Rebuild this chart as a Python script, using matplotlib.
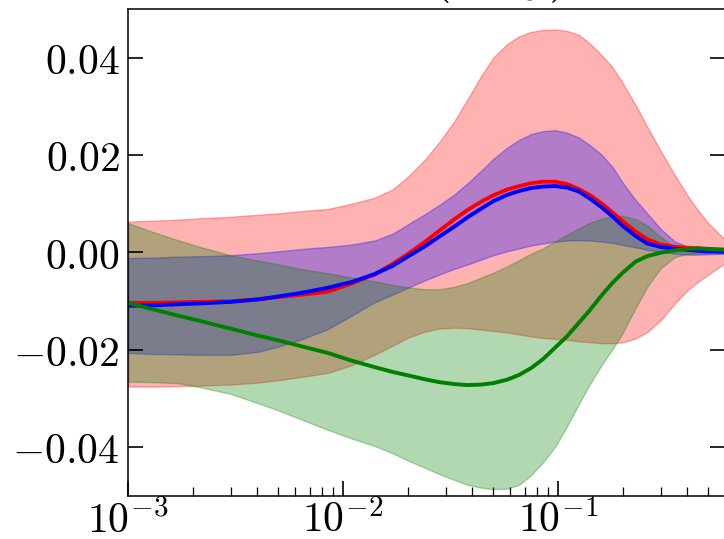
import matplotlib
matplotlib.use("Agg")
import matplotlib.pyplot as plt
from matplotlib.ticker import FixedLocator, FixedFormatter, LogLocator, NullFormatter

plt.rcParams["mathtext.fontset"] = "cm"
plt.rcParams["font.family"] = "serif"

# x grid
x = [0.001, 0.0013, 0.0017, 0.0022, 0.003, 0.004, 0.005, 0.0065, 0.0085, 0.011,
     0.014, 0.017, 0.02, 0.024, 0.028, 0.033, 0.038, 0.044, 0.05, 0.058,
     0.066, 0.075, 0.085, 0.097, 0.11, 0.125, 0.14, 0.16, 0.18, 0.2,
     0.23, 0.26, 0.3, 0.35, 0.4, 0.45, 0.5, 0.6]

# central curves
red_mid = [-0.0104, -0.0104, -0.0103, -0.0102, -0.0101, -0.0097, -0.0092, -0.0087, -0.0081, -0.0064,
           -0.0046, -0.0024, -0.0004, 0.0021, 0.0044, 0.0068, 0.0087, 0.0104, 0.0117, 0.0129,
           0.0136, 0.0142, 0.0145, 0.0145, 0.0140, 0.0130, 0.0118, 0.0100, 0.0081, 0.0064,
           0.0042, 0.0027, 0.0016, 0.0011, 0.0009, 0.0008, 0.0006, 0.0005]
blue_mid = [-0.0110, -0.0109, -0.0107, -0.0105, -0.0102, -0.0097, -0.0091, -0.0083, -0.0073, -0.0061,
            -0.0045, -0.0028, -0.0009, 0.0012, 0.0032, 0.0053, 0.0072, 0.0090, 0.0105, 0.0118,
            0.0126, 0.0132, 0.0135, 0.0136, 0.0133, 0.0125, 0.0111, 0.0092, 0.0073, 0.0054,
            0.0033, 0.0018, 0.0011, 0.0007, 0.0005, 0.0003, 0.0002, 0.0001]
green_mid = [-0.0104, -0.0117, -0.0130, -0.0142, -0.0157, -0.0171, -0.0181, -0.0194, -0.0207, -0.0223,
             -0.0236, -0.0246, -0.0253, -0.0261, -0.0267, -0.0271, -0.0273, -0.0272, -0.0269, -0.0262,
             -0.0252, -0.0238, -0.0220, -0.0196, -0.0173, -0.0145, -0.0120, -0.0088, -0.0062, -0.0042,
             -0.0019, -0.0008, -0.0001, 0.0004, 0.0007, 0.0008, 0.0007, 0.0005]

# uncertainty bands
red_hi = [0.0063, 0.0065, 0.0067, 0.0070, 0.0073, 0.0077, 0.0080, 0.0085, 0.0089, 0.0100,
          0.0112, 0.0129, 0.0155, 0.0190, 0.0226, 0.0270, 0.0315, 0.0363, 0.0400, 0.0428,
          0.0444, 0.0453, 0.0457, 0.0458, 0.0455, 0.0447, 0.0430, 0.0405, 0.0379, 0.0348,
          0.0302, 0.0258, 0.0209, 0.0158, 0.0117, 0.0085, 0.0060, 0.0025]
red_lo = [-0.0276, -0.0276, -0.0275, -0.0274, -0.0272, -0.0268, -0.0263, -0.0256, -0.0248, -0.0232,
          -0.0211, -0.0192, -0.0176, -0.0163, -0.0157, -0.0155, -0.0156, -0.0159, -0.0162, -0.0165,
          -0.0169, -0.0173, -0.0176, -0.0178, -0.0180, -0.0183, -0.0185, -0.0187, -0.0187, -0.0185,
          -0.0177, -0.0164, -0.0140, -0.0105, -0.0078, -0.0060, -0.0046, -0.0022]
blue_hi = [-0.0012, -0.0011, -0.0009, -0.0008, -0.0006, -0.0002, 0.0002, 0.0007, 0.0011, 0.0016,
           0.0024, 0.0038, 0.0057, 0.0078, 0.0097, 0.0119, 0.0142, 0.0168, 0.0192, 0.0215,
           0.0231, 0.0243, 0.0249, 0.0251, 0.0246, 0.0236, 0.0221, 0.0200, 0.0174, 0.0143,
           0.0107, 0.0080, 0.0048, 0.0022, 0.0012, 0.0008, 0.0006, 0.0005]
blue_lo = [-0.0207, -0.0209, -0.0210, -0.0211, -0.0211, -0.0205, -0.0194, -0.0178, -0.0158, -0.0130,
           -0.0103, -0.0087, -0.0073, -0.0058, -0.0046, -0.0034, -0.0025, -0.0015, -0.0006, 0.0002,
           0.0008, 0.0014, 0.0018, 0.0022, 0.0024, 0.0025, 0.0024, 0.0022, 0.0019, 0.0015,
           0.0010, 0.0005, 0.0001, -0.0003, -0.0005, -0.0005, -0.0004, -0.0003]
green_hi = [0.0060, 0.0042, 0.0025, 0.0010, -0.0006, -0.0017, -0.0025, -0.0035, -0.0043, -0.0052,
            -0.0060, -0.0067, -0.0072, -0.0076, -0.0076, -0.0071, -0.0063, -0.0052, -0.0042, -0.0029,
            -0.0016, -0.0003, 0.0008, 0.0022, 0.0036, 0.0049, 0.0060, 0.0069, 0.0074, 0.0075,
            0.0068, 0.0055, 0.0032, 0.0010, 0.0003, 0.0001, 0.0000, 0.0000]
green_lo = [-0.0266, -0.0267, -0.0269, -0.0278, -0.0291, -0.0310, -0.0325, -0.0345, -0.0365, -0.0383,
            -0.0398, -0.0413, -0.0428, -0.0443, -0.0456, -0.0468, -0.0478, -0.0484, -0.0487, -0.0486,
            -0.0478, -0.0458, -0.0432, -0.0400, -0.0358, -0.0312, -0.0273, -0.0231, -0.0198, -0.0166,
            -0.0114, -0.0071, -0.0033, -0.0010, -0.0003, -0.0002, -0.0002, -0.0002]

y_ticks = [-0.04, -0.02, 0.0, 0.02, 0.04]
y_labels = [r"$-0.04$", r"$-0.02$", r"$0.00$", r"$0.02$", r"$0.04$"]
x_ticks = [1e-3, 1e-2, 1e-1]
x_labels = [r"$10^{-3}$", r"$10^{-2}$", r"$10^{-1}$"]

fig = plt.figure(figsize=(7.24, 5.39), dpi=100)
ax = fig.add_axes([0.1768, 0.0807, 0.825, 0.9026])

ax.fill_between(x, red_lo, red_hi, color="red", alpha=0.3)
ax.fill_between(x, blue_lo, blue_hi, color="blue", alpha=0.3)
ax.fill_between(x, green_lo, green_hi, color="green", alpha=0.3)
ax.plot(x, red_mid, color="red", lw=2.8)
ax.plot(x, blue_mid, color="blue", lw=2.8)
ax.plot(x, green_mid, color="green", lw=2.8)

ax.set_xscale("log")
ax.set_xlim(1e-3, 0.6)
ax.set_ylim(-0.05, 0.05)

ax.xaxis.set_major_locator(FixedLocator(x_ticks))
ax.xaxis.set_major_formatter(FixedFormatter(x_labels))
ax.xaxis.set_minor_locator(LogLocator(base=10, subs=range(2, 10), numticks=20))
ax.xaxis.set_minor_formatter(NullFormatter())
ax.yaxis.set_major_locator(FixedLocator(y_ticks))
ax.yaxis.set_major_formatter(FixedFormatter(y_labels))

ax.tick_params(which="both", direction="in", top=False, right=True, labelsize=30)
ax.tick_params(which="major", length=10.5, width=1.2)
ax.tick_params(axis="y", which="major", pad=6)
ax.tick_params(axis="x", which="major", pad=3)
ax.tick_params(which="minor", length=6.5, width=0.9)
for s in ax.spines.values():
    s.set_linewidth(1.1)

# title, mostly cut off by the top of the image
fig.text(0.687, 1.021, r"$(x,\;y)$", fontsize=40, ha="center", va="baseline")

fig.savefig("out.png", dpi=100)
